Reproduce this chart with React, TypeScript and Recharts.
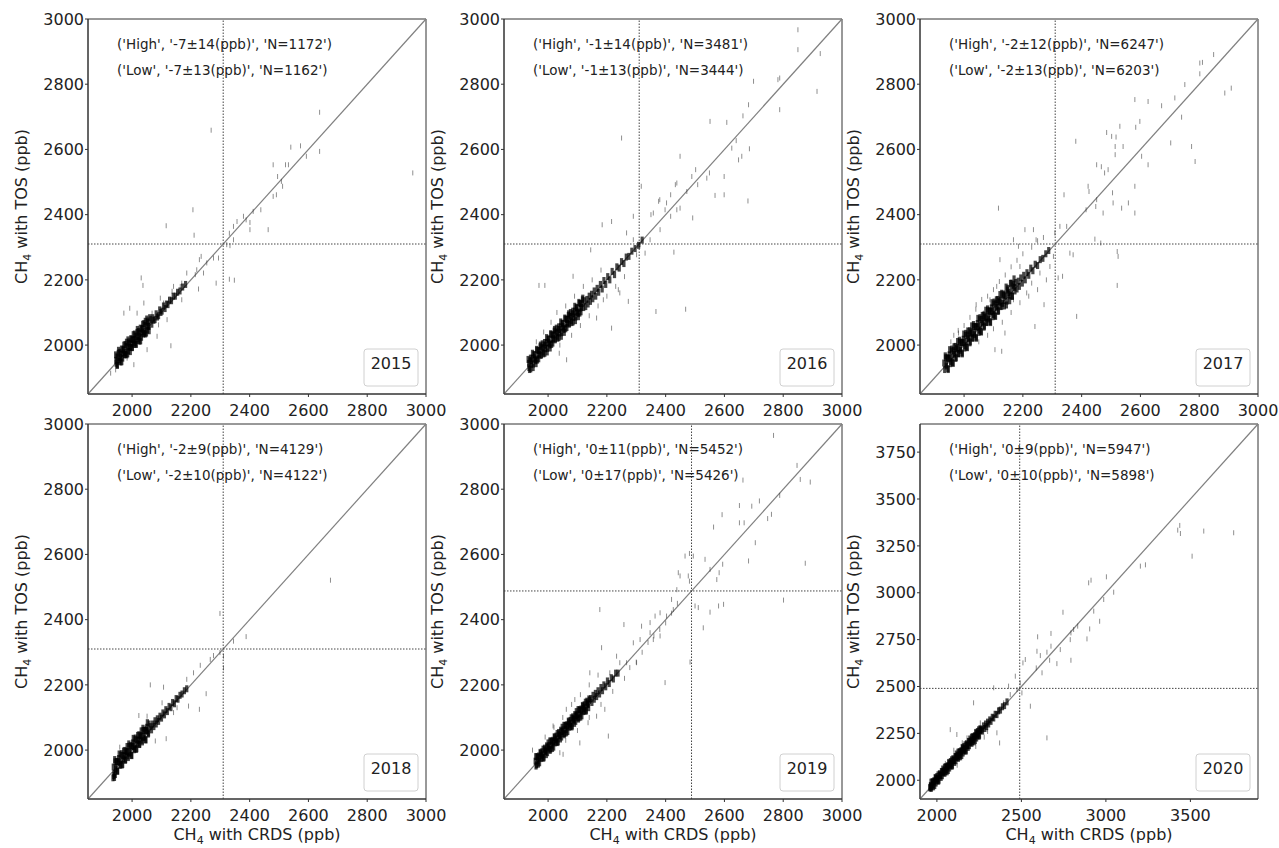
import React from 'react';
import { ScatterChart, Scatter, XAxis, YAxis, ReferenceLine, ReferenceArea } from 'recharts';

type P = [number, number];

const years = ['2015', '2016', '2017', '2018', '2019', '2020'];
const highStats = [
  "('High', '-7±14(ppb)', 'N=1172')",
  "('High', '-1±14(ppb)', 'N=3481')",
  "('High', '-2±12(ppb)', 'N=6247')",
  "('High', '-2±9(ppb)', 'N=4129')",
  "('High', '0±11(ppb)', 'N=5452')",
  "('High', '0±9(ppb)', 'N=5947')",
];
const lowStats = [
  "('Low', '-7±13(ppb)', 'N=1162')",
  "('Low', '-1±13(ppb)', 'N=3444')",
  "('Low', '-2±13(ppb)', 'N=6203')",
  "('Low', '-2±10(ppb)', 'N=4122')",
  "('Low', '0±17(ppb)', 'N=5426')",
  "('Low', '0±10(ppb)', 'N=5898')",
];
const thresholds = [2310, 2310, 2310, 2310, 2488, 2490];
const domainLow = [1850, 1850, 1850, 1850, 1850, 1900];
const domainHigh = [3000, 3000, 3000, 3000, 3000, 3900];
const ticksStd = [2000, 2200, 2400, 2600, 2800, 3000];
const ticks2020X = [2000, 2500, 3000, 3500];
const ticks2020Y = [2000, 2250, 2500, 2750, 3000, 3250, 3500, 3750];

// ---- 2015 ----
const core2015: P[] = [
  [1944,1970],[1946,1944],[1948,1964],[1950,1938],[1952,1962],[1954,1984],[1956,1950],[1958,1978],[1960,1962],[1962,1948],[1964,1988],[1966,1972],[1968,1960],[1970,1984],[1972,2000],[1974,1970],[1976,2002],[1978,1976],[1980,1996],[1982,1970],[1984,1994],[1986,2016],[1988,1982],[1990,2010],[1992,1994],[1994,1980],[1996,2020],[1998,2004],[2000,1992],[2002,2016],[2004,2032],[2006,2002],[2008,2034],[2010,2008],[2012,2028],[2014,2002],[2016,2026],[2018,2048],[2020,2014],[2022,2042],[2024,2026],[2026,2012],[2028,2052],[2030,2036],[2032,2024],[2034,2048],[2036,2064],[2038,2034],[2040,2066],[2042,2040],[2044,2060],[2046,2034],[2048,2058],[2050,2080],[2052,2046],[2054,2074],[2056,2058],[2058,2044],[2060,2084],
  [1945,1953],[1949,1939],[1953,1975],[1957,1955],[1961,1973],[1965,1949],[1969,1987],[1973,1977],[1977,1971],[1981,2009],[1985,1973],[1989,2005],[1993,1993],[1997,2017],[2001,1993],[2005,2015],[2009,2017],[2013,2003],[2017,2039],[2021,2019],[2025,2037],[2029,2013],[2033,2051],[2037,2041],[2041,2035],[2045,2073],[2049,2037],[2053,2069],[2057,2057],
  [2064,2078],[2067,2064],[2070,2084],[2074,2076],[2078,2078],[2082,2096],[2086,2086],[2090,2090],[2094,2108],[2098,2100],[2102,2104],[2107,2120],[2112,2112],[2117,2126],[2122,2124],[2128,2138],[2134,2136],[2140,2150],[2147,2150],[2155,2162],[2163,2166],[2172,2178],[2182,2186],
];
const out2015: P[] = [
  [2269,2659],[2638,2714],[2638,2594],[2593,2579],[2540,2607],[2573,2611],[2480,2553],[2522,2553],[2532,2553],[2495,2517],[2508,2502],[2512,2487],[2480,2456],[2491,2461],[2955,2528],[2207,2415],[2116,2366],[2211,2337],[2438,2415],[2412,2410],[2388,2384],[2401,2376],[2379,2395],[2345,2364],[2357,2379],[2463,2354],[2401,2354],[2331,2343],[2322,2308],[2333,2305],[2345,2323],[2331,2202],[2348,2199],[2286,2190],[2294,2267],[2277,2267],[2254,2252],[2235,2272],[2229,2262],[2220,2231],[2243,2221],[2226,2172],[2215,2216],[2186,2221],[2169,2190],[2164,2180],[2153,2160],[2136,2165],[2141,2180],[2169,2139],[2124,2139],[2107,2129],[2096,2144],[2068,2098],[2031,2206],[2037,2183],[2040,2129],[1992,2113],[1972,2098],[2017,2098],[2132,1998],[2090,2062],[2119,2078],[2085,2027],[2051,1986],[2006,1940],[1983,1960],[1927,1914],[1944,1924],
];

// ---- 2016 ----
const core2016: P[] = [
  [1932,1956],[1935,1931],[1938,1952],[1941,1927],[1944,1952],[1947,1975],[1950,1942],[1953,1971],[1956,1956],[1959,1943],[1962,1984],[1965,1969],[1968,1958],[1971,1983],[1974,2000],[1977,1971],[1980,2004],[1983,1979],[1986,2000],[1989,1975],[1992,2000],[1995,2023],[1998,1990],[2001,2019],[2004,2004],[2007,1991],[2010,2032],[2013,2017],[2016,2006],[2019,2031],[2022,2048],[2025,2019],[2028,2052],[2031,2027],[2034,2048],[2037,2023],[2040,2048],[2043,2071],[2046,2038],[2049,2067],[2052,2052],[2055,2039],[2058,2080],[2061,2065],[2064,2054],[2067,2079],[2070,2096],[2073,2067],[2076,2100],[2079,2075],[2082,2096],[2085,2071],[2088,2096],[2091,2119],[2094,2086],[2097,2115],[2100,2100],[2103,2087],[2106,2128],[2109,2113],[2112,2102],[2115,2127],[2118,2144],[2121,2115],
  [1934,1944],[1937,1925],[1940,1960],[1943,1941],[1946,1960],[1949,1931],[1952,1970],[1955,1961],[1958,1952],[1961,1987],[1964,1954],[1967,1983],[1970,1972],[1973,1995],[1976,1968],[1979,1991],[1982,1992],[1985,1973],[1988,2008],[1991,1989],[1994,2008],[1997,1979],[2000,2018],[2003,2009],[2006,2000],[2009,2035],[2012,2002],[2015,2031],[2018,2020],[2021,2043],[2024,2016],[2027,2039],[2030,2040],[2033,2021],[2036,2056],[2039,2037],[2042,2056],[2045,2027],[2048,2066],[2051,2057],[2054,2048],[2057,2083],[2060,2050],[2063,2079],[2066,2068],[2069,2091],[2072,2064],[2075,2087],[2078,2088],[2081,2069],[2084,2104],[2087,2085],[2090,2104],[2093,2075],[2096,2114],[2099,2105],[2102,2096],[2105,2131],[2108,2098],[2111,2127],[2114,2116],[2117,2139],
  [2124,2136],[2128,2118],[2132,2140],[2136,2126],[2140,2150],[2144,2134],[2148,2156],[2152,2142],[2157,2166],[2162,2150],[2167,2174],[2172,2162],[2178,2186],[2184,2172],[2190,2198],[2196,2186],[2203,2210],[2210,2200],[2218,2226],[2226,2216],[2234,2240],[2242,2236],[2250,2256],[2258,2250],[2266,2270],[2275,2272],[2285,2288],[2296,2296],[2308,2306],[2320,2322],
];
const out2016: P[] = [
  [2850,2967],[2850,2906],[2926,2894],[2782,2814],[2788,2819],[2699,2809],[2915,2778],[2788,2722],[2682,2737],[2663,2703],[2608,2683],[2551,2686],[2250,2635],[2640,2627],[2685,2602],[2659,2579],[2648,2568],[2625,2604],[2599,2517],[2568,2459],[2599,2461],[2680,2442],[2549,2528],[2540,2512],[2509,2492],[2502,2538],[2489,2517],[2472,2471],[2449,2579],[2438,2497],[2433,2492],[2417,2461],[2403,2436],[2380,2446],[2376,2441],[2398,2415],[2417,2395],[2438,2415],[2449,2420],[2492,2390],[2350,2400],[2381,2354],[2290,2395],[2216,2379],[2184,2369],[2358,2405],[2317,2487],[2347,2323],[2313,2308],[2290,2323],[2267,2344],[2428,2285],[2330,2282],[2301,2277],[2145,2292],[2085,2211],[1989,2183],[1969,2183],[2273,2134],[2239,2170],[2244,2160],[2367,2103],[2468,2110],[2216,2052],[2188,2139],[2165,2083],[2063,1955],[2038,1975],
  [1960,2010],[1985,2040],[2010,2070],[2030,2100],[2060,2120],[2090,2150],[2120,2180],[2150,2200],[2180,2230],[2040,2000],[2080,2030],[2110,2060],[2140,2090],[2170,2120],[2200,2150],[2230,2180],[2260,2210],
];

// ---- 2017 ----
const core2017: P[] = [
  [1936,1967],[1939,1936],[1942,1961],[1945,1928],[1948,1959],[1951,1986],[1954,1943],[1957,1982],[1960,1963],[1963,1944],[1966,1995],[1969,1976],[1972,1959],[1975,1990],[1978,2011],[1981,1974],[1984,2015],[1987,1984],[1990,2009],[1993,1976],[1996,2007],[1999,2034],[2002,1991],[2005,2030],[2008,2011],[2011,1992],[2014,2043],[2017,2024],[2020,2007],[2023,2038],[2026,2059],[2029,2022],[2032,2063],[2035,2032],[2038,2057],[2041,2024],[2044,2055],[2047,2082],[2050,2039],[2053,2078],[2056,2059],[2059,2040],[2062,2091],[2065,2072],[2068,2055],[2071,2086],[2074,2107],[2077,2070],[2080,2111],[2083,2080],[2086,2105],[2089,2072],[2092,2103],[2095,2130],[2098,2087],[2101,2126],[2104,2107],[2107,2088],[2110,2139],[2113,2120],[2116,2103],[2119,2134],[2122,2155],[2125,2118],[2128,2159],[2131,2128],[2134,2153],[2137,2120],[2140,2151],[2143,2178],[2146,2135],[2149,2174],[2152,2155],[2155,2136],[2158,2189],[2161,2168],[2164,2151],[2167,2182],[2170,2203],[2173,2166],
  [1931,1945],[1934,1925],[1937,1961],[1940,1941],[1943,1960],[1946,1925],[1949,1970],[1952,1961],[1955,1950],[1958,1988],[1961,1946],[1964,1983],[1967,1972],[1970,1996],[1973,1962],[1976,1988],[1979,1993],[1982,1973],[1985,2009],[1988,1989],[1991,2008],[1994,1973],[1997,2018],[2000,2009],[2003,1998],[2006,2036],[2009,1994],[2012,2031],[2015,2020],[2018,2044],[2021,2010],[2024,2036],[2027,2041],[2030,2021],[2033,2057],[2036,2037],[2039,2056],[2042,2021],[2045,2066],[2048,2057],[2051,2046],[2054,2084],[2057,2042],[2060,2079],[2063,2068],[2066,2092],[2069,2058],[2072,2084],[2075,2089],[2078,2069],[2081,2105],[2084,2085],[2087,2104],[2090,2069],[2093,2114],[2096,2105],[2099,2094],[2102,2132],[2105,2090],[2108,2127],[2111,2116],[2114,2140],[2117,2106],[2120,2132],[2124,2138],[2128,2119],[2132,2156],[2136,2137],[2140,2157],[2144,2123],[2148,2169],[2152,2161],[2156,2151],[2160,2190],[2164,2149],[2168,2187],[2172,2177],
  [2176,2192],[2180,2172],[2184,2196],[2188,2180],[2193,2206],[2198,2190],[2203,2214],[2208,2200],[2214,2222],[2220,2214],[2227,2236],[2234,2228],[2242,2248],[2250,2244],[2259,2262],[2268,2266],[2278,2280],[2288,2290],
];
const out2017: P[] = [
  [2849,2891],[2802,2865],[2811,2867],[2802,2832],[2887,2773],[2909,2788],[2751,2799],[2717,2758],[2740,2699],[2672,2734],[2626,2747],[2581,2753],[2598,2686],[2584,2668],[2530,2671],[2485,2652],[2502,2640],[2517,2638],[2541,2609],[2514,2609],[2514,2584],[2703,2620],[2774,2609],[2786,2563],[2626,2553],[2604,2579],[2380,2625],[2451,2553],[2467,2547],[2490,2538],[2478,2528],[2422,2487],[2425,2471],[2451,2446],[2448,2425],[2473,2405],[2505,2467],[2507,2436],[2536,2420],[2559,2436],[2581,2405],[2581,2487],[2415,2415],[2340,2461],[2117,2420],[2445,2325],[2465,2313],[2371,2277],[2521,2287],[2524,2272],[2521,2183],[2335,2211],[2320,2206],[2383,2088],[2272,2124],[2241,2057],[2128,1981],[2105,1986],[2041,2124],[2139,2037],[2122,2262],[2168,2323],[2207,2354],[2236,2354],[2185,2303],[2245,2323],[2309,2344],[2326,2364],[2349,2364],[2360,2282],[2304,2272],[2292,2241],[2258,2221],[2230,2190],[2213,2160],[2168,2139],[2190,2241],[2111,2180],[2088,2139],[2066,2098],[2054,2037],[2009,2047],[1981,2037],
  [1955,2010],[1965,2030],[1980,2045],[2000,2060],[2020,2085],[2040,2110],[2060,2140],[2080,2150],[2100,2170],[2120,2195],[2140,2215],[2160,2240],[2180,2260],[2200,2280],[2230,2300],[2250,2320],[2270,2330],[2050,2010],[2080,2030],[2100,2050],[2130,2070],[2160,2100],[2190,2130],[2220,2150],[2250,2170],[2280,2200],
];

// ---- 2018 ----
const core2018: P[] = [
  [1941,1971],[1944,1942],[1947,1965],[1950,1936],[1953,1965],[1956,1988],[1959,1953],[1962,1984],[1965,1969],[1968,1956],[1971,1997],[1974,1982],[1977,1969],[1980,1996],[1983,2011],[1986,1982],[1989,2019],[1992,1990],[1995,2013],[1998,1984],[2001,2013],[2004,2036],[2007,2001],[2010,2032],[2013,2017],[2016,2004],[2019,2045],[2022,2030],[2025,2017],[2028,2044],[2031,2059],[2034,2030],[2037,2067],[2040,2038],[2043,2061],[2046,2032],[2049,2061],[2052,2084],[2055,2049],[2058,2080],
  [1936,1948],[1939,1929],[1942,1964],[1945,1945],[1948,1964],[1951,1935],[1954,1974],[1957,1963],[1960,1956],[1963,1989],[1966,1954],[1969,1983],[1972,1974],[1975,1999],[1978,1970],[1981,1991],[1984,1996],[1987,1977],[1990,2012],[1993,1993],[1996,2012],[1999,1983],[2002,2022],[2005,2011],[2008,2004],[2011,2037],[2014,2002],[2017,2031],[2020,2022],[2023,2047],[2026,2018],[2029,2039],[2032,2044],[2035,2025],[2038,2060],[2041,2041],[2044,2060],[2047,2031],[2050,2070],[2053,2059],[2056,2052],
  [1935,1915],[1938,1922],[1940,1916],[1943,1925],
  [2062,2072],[2066,2062],[2070,2080],[2074,2072],[2078,2090],[2082,2080],[2086,2096],[2090,2088],[2095,2104],[2100,2098],[2105,2114],[2110,2108],[2115,2124],[2120,2118],[2126,2134],[2132,2130],[2138,2146],[2144,2142],[2150,2158],[2156,2156],[2163,2168],[2170,2172],[2178,2182],[2186,2188],
];
const out2018: P[] = [
  [2675,2521],[2299,2419],[2388,2348],[2345,2334],[2311,2288],[2299,2299],[2277,2290],[2266,2278],[2232,2260],[2209,2237],[2186,2217],[2311,2252],[2252,2173],[2229,2125],[2192,2135],[2107,2193],[2062,2200],[2023,2106],[2116,2035],[2079,2028],[2045,2068],[2141,2115],[2153,2130],[2102,2145],[2051,2104],[1958,2009],
];

// ---- 2019 ----
const core2019: P[] = [
  [1958,1980],[1961,1955],[1964,1978],[1967,1957],[1970,1978],[1973,1993],[1976,1974],[1979,1995],[1982,1986],[1985,1975],[1988,2006],[1991,1997],[1994,1986],[1997,2009],[2000,2022],[2003,2003],[2006,2028],[2009,2003],[2012,2026],[2015,2005],[2018,2026],[2021,2041],[2024,2022],[2027,2043],[2030,2034],[2033,2023],[2036,2054],[2039,2045],[2042,2034],[2045,2057],[2048,2070],[2051,2051],[2054,2076],[2057,2051],[2060,2074],[2063,2053],[2066,2074],[2069,2089],[2072,2070],[2075,2091],[2078,2082],[2081,2071],[2084,2102],[2087,2093],[2090,2082],[2093,2105],[2096,2118],[2099,2099],[2102,2124],[2105,2099],[2108,2122],[2111,2101],[2114,2122],[2117,2137],[2120,2118],[2123,2139],[2126,2130],[2129,2119],[2132,2150],[2135,2141],[2138,2130],[2141,2153],
  [1956,1966],[1959,1951],[1962,1980],[1965,1967],[1968,1982],[1971,1961],[1974,1990],[1977,1983],[1980,1976],[1983,2003],[1986,1978],[1989,2001],[1992,1996],[1995,2013],[1998,1992],[2001,2009],[2004,2014],[2007,1999],[2010,2028],[2013,2015],[2016,2030],[2019,2009],[2022,2038],[2025,2031],[2028,2024],[2031,2051],[2034,2026],[2037,2049],[2040,2044],[2043,2061],[2046,2040],[2049,2057],[2052,2062],[2055,2047],[2058,2076],[2061,2063],[2064,2078],[2067,2057],[2070,2086],[2073,2079],[2076,2072],[2079,2099],[2082,2074],[2085,2097],[2088,2092],[2091,2109],[2094,2088],[2097,2105],[2100,2110],[2103,2095],[2106,2124],[2109,2111],[2112,2126],[2115,2105],[2118,2134],[2121,2127],[2124,2120],[2127,2147],[2130,2122],[2133,2145],[2136,2140],[2139,2157],
  [2145,2158],[2149,2146],[2153,2168],[2157,2156],[2161,2174],[2165,2164],[2170,2182],[2175,2172],[2180,2192],[2185,2182],[2190,2200],[2196,2194],[2202,2212],[2208,2204],[2215,2222],[2222,2218],[2230,2236],[2238,2236],
];
const out2019: P[] = [
  [2767,2965],[2847,2873],[2858,2830],[2892,2822],[2663,2828],[2788,2781],[2719,2764],[2693,2748],[2651,2750],[2760,2723],[2592,2722],[2747,2710],[2705,2636],[2563,2684],[2651,2697],[2667,2697],[2682,2580],[2875,2573],[2801,2460],[2597,2447],[2580,2442],[2594,2570],[2582,2544],[2574,2523],[2551,2554],[2534,2585],[2494,2595],[2481,2603],[2466,2595],[2443,2544],[2449,2534],[2477,2534],[2481,2518],[2500,2442],[2511,2437],[2528,2375],[2551,2423],[2483,2270],[2176,2431],[2182,2314],[2258,2385],[2398,2207],[2318,2380],[2347,2391],[2364,2411],[2381,2421],[2403,2411],[2426,2431],[2420,2462],[2438,2492],[2381,2350],[2358,2339],[2347,2360],[2313,2339],[2290,2329],[2267,2268],[2278,2253],[2244,2268],[2233,2288],[2210,2237],[2301,2268],[2205,2043],[2193,2125],[2165,2104],[2136,2084],[2108,2022],[2040,1992],[2008,2002],[2091,2155],[2142,2237],[2062,2125],[2017,2074],[1947,2000],[2051,1987],
  [1990,2040],[2020,2070],[2050,2100],[2080,2140],[2110,2170],[2140,2200],[2170,2230],[2060,2030],[2100,2060],[2140,2100],[2180,2140],[2220,2180],[2260,2220],[2300,2270],[2320,2300],[2340,2330],[2360,2350],[2380,2370],[2400,2390],[2420,2420],[2440,2450],
];

// ---- 2020 ----
const core2020: P[] = [
  [1965,1990],[1970,1965],[1975,1990],[1980,1965],[1985,1995],[1990,2015],[1995,1985],[2000,2020],[2005,2010],[2010,1995],[2015,2035],[2020,2025],[2025,2015],[2030,2045],[2035,2060],[2040,2040],[2045,2070],[2050,2045],[2055,2070],[2060,2045],[2065,2075],[2070,2095],[2075,2065],[2080,2100],[2085,2090],[2090,2075],[2095,2115],[2100,2105],[2105,2095],[2110,2125],[2115,2140],[2120,2120],[2125,2150],[2130,2125],[2135,2150],[2140,2125],[2145,2155],[2150,2175],[2155,2145],[2160,2180],[2165,2170],[2170,2155],[2175,2195],[2180,2185],[2185,2175],[2190,2205],[2195,2220],[2200,2200],[2205,2230],[2210,2205],[2215,2230],[2220,2205],[2225,2235],[2230,2255],[2235,2225],[2240,2260],[2245,2250],[2250,2235],[2255,2275],[2260,2265],
  [1962,1972],[1967,1957],[1972,1992],[1977,1977],[1982,1997],[1987,1972],[1992,2010],[1997,2002],[2002,1997],[2007,2029],[2012,2000],[2017,2029],[2022,2024],[2027,2047],[2032,2024],[2037,2045],[2042,2052],[2047,2037],[2052,2072],[2057,2057],[2062,2077],[2067,2052],[2072,2090],[2077,2082],[2082,2077],[2087,2109],[2092,2080],[2097,2109],[2102,2104],[2107,2127],[2112,2104],[2117,2125],[2122,2132],[2127,2117],[2132,2152],[2137,2137],[2142,2157],[2147,2132],[2152,2170],[2157,2162],[2162,2157],[2167,2189],[2172,2160],[2177,2189],[2182,2184],[2187,2207],[2192,2184],[2197,2205],[2202,2212],[2207,2197],[2212,2232],[2217,2217],[2222,2237],[2227,2212],[2232,2250],[2237,2242],[2242,2237],[2247,2269],[2252,2240],[2257,2269],
  [1960,1958],[1963,1966],[1958,1962],
  [2265,2272],[2270,2262],[2276,2290],[2282,2276],[2288,2300],[2294,2286],[2300,2310],[2306,2300],[2313,2322],[2320,2314],[2328,2336],[2336,2332],[2345,2352],[2355,2350],[2365,2370],[2376,2374],[2388,2392],[2400,2398],[2415,2418],
];
const out2020: P[] = [
  [3437,3359],[3425,3334],[3441,3316],[3579,3329],[3756,3320],[3510,3195],[3204,3142],[3234,3149],[3003,3085],[2898,3053],[2912,3067],[3046,3003],[2987,2964],[2746,2896],[2928,2902],[2963,2848],[2904,2807],[2888,2754],[2833,2822],[2793,2786],[2809,2804],[2793,2640],[2789,2750],[2730,2697],[2675,2783],[2596,2765],[2675,2715],[2651,2683],[2612,2665],[2592,2688],[2588,2599],[2622,2573],[2667,2640],[2710,2622],[2523,2644],[2509,2626],[2651,2226],[2553,2395],[2464,2555],[2493,2519],[2424,2502],[2474,2484],[2503,2466],[2434,2457],[2395,2413],[2365,2377],[2336,2493],[2371,2199],[2217,2413],[2178,2226],[2118,2244],[2079,2270],[2257,2306],[2296,2270],[2355,2253],
  [2100,2160],[2150,2200],[2180,2150],[2050,2090],[2230,2180],[2280,2230],[2300,2260],[2120,2080],
];

const cores: P[][] = [core2015, core2016, core2017, core2018, core2019, core2020];
const outs: P[][] = [out2015, out2016, out2017, out2018, out2019, out2020];

const plotLefts = [88, 504, 920];
const plotTops = [19, 424];
const PW = 338;
const PH = 375;
const FONT = 'DejaVu Sans, Arial, sans-serif';
const TXT = '#222';

const toPts = (arr: P[]) => arr.map(([x, y]) => ({ x, y }));

const coreShape = (p: any) => (
  <rect x={p.cx - 1.6} y={p.cy - 3.5} width={3.2} height={7} fill="#000" fillOpacity={0.72} />
);
const outShape = (p: any) => (
  <rect x={p.cx - 0.5} y={p.cy - 2.5} width={1} height={5} fill="#333" fillOpacity={0.55} />
);

function Panel({ i }: { i: number }) {
  const col = i % 3;
  const row = Math.floor(i / 3);
  const lo = domainLow[i];
  const hi = domainHigh[i];
  const xt = i === 5 ? ticks2020X : ticksStd;
  const yt = i === 5 ? ticks2020Y : ticksStd;
  const th = thresholds[i];
  const chartLeft = plotLefts[col] - 88;
  const chartTop = row === 0 ? 0 : 405;
  const height = row === 0 ? 424 : 443;
  const tickStyle = { fontSize: 16, fill: TXT, fontFamily: FONT };
  return (
    <div style={{ position: 'absolute', left: chartLeft, top: chartTop }}>
      <ScatterChart
        width={460}
        height={height}
        margin={{ top: 19, right: 34, bottom: row === 0 ? 0 : 5, left: 28 }}
      >
        <XAxis
          type="number"
          dataKey="x"
          domain={[lo, hi]}
          ticks={xt}
          interval={0}
          allowDataOverflow
          height={row === 0 ? 30 : 44}
          tickSize={3}
          tickMargin={8}
          tick={tickStyle}
          axisLine={{ stroke: '#333' }}
          tickLine={{ stroke: '#333' }}
        />
        <YAxis
          type="number"
          dataKey="y"
          domain={[lo, hi]}
          ticks={yt}
          interval={0}
          allowDataOverflow
          width={60}
          tickSize={3}
          tickMargin={1}
          tick={tickStyle}
          axisLine={{ stroke: '#333' }}
          tickLine={{ stroke: '#333' }}
        />
        <ReferenceArea x1={lo} x2={hi} y1={lo} y2={hi} fill="none" fillOpacity={0} stroke="#333" strokeWidth={1} ifOverflow="visible" />
        <ReferenceLine
          segment={[{ x: lo, y: lo }, { x: hi, y: hi }]}
          stroke="#808080"
          strokeWidth={1.2}
          ifOverflow="visible"
        />
        <ReferenceLine x={th} stroke="#444" strokeWidth={1} strokeDasharray="1.5 1.5" />
        <ReferenceLine y={th} stroke="#444" strokeWidth={1} strokeDasharray="1.5 1.5" />
        <Scatter data={toPts(outs[i])} shape={outShape} isAnimationActive={false} />
        <Scatter data={toPts(cores[i])} shape={coreShape} isAnimationActive={false} />
      </ScatterChart>
    </div>
  );
}

function Overlay() {
  const items: React.ReactNode[] = [];
  for (let i = 0; i < 6; i++) {
    const col = i % 3;
    const row = Math.floor(i / 3);
    const L = plotLefts[col];
    const T = plotTops[row];
    const R = L + PW;
    const B = T + PH;
    const cy = T + PH / 2;
    const ylx = L - 61;
    items.push(
      <g key={'p' + i}>
        <text x={L + 29} y={T + 29.5} fontSize={13.5} fill={TXT} fontFamily={FONT}>{highStats[i]}</text>
        <text x={L + 29} y={T + 56} fontSize={13.5} fill={TXT} fontFamily={FONT}>{lowStats[i]}</text>
        <rect x={R - 62} y={B - 45} width={54} height={37} rx={3} ry={3} fill="#fff" fillOpacity={0.8} stroke="#d0d0d0" strokeWidth={1} />
        <text x={R - 35} y={B - 25} fontSize={16} fill={TXT} fontFamily={FONT} textAnchor="middle">{years[i]}</text>
        <text x={ylx} y={cy} fontSize={16} fill={TXT} fontFamily={FONT} textAnchor="middle" transform={`rotate(-90, ${ylx}, ${cy})`}>
          <tspan>CH</tspan>
          <tspan fontSize={11} dy={3.5}>4</tspan>
          <tspan dy={-3.5}> with TOS (ppb)</tspan>
        </text>
        {row === 1 ? (
          <text x={L + PW / 2} y={840} fontSize={16} fill={TXT} fontFamily={FONT} textAnchor="middle">
            <tspan>CH</tspan>
            <tspan fontSize={11} dy={3.5}>4</tspan>
            <tspan dy={-3.5}> with CRDS (ppb)</tspan>
          </text>
        ) : null}
      </g>
    );
  }
  return (
    <svg width={1279} height={848} style={{ position: 'absolute', left: 0, top: 0, pointerEvents: 'none' }}>
      {items}
    </svg>
  );
}

export default function App() {
  return (
    <div style={{ position: 'absolute', left: 0, top: 0, width: 1279, height: 848, background: '#fff', overflow: 'hidden' }}>
      {[0, 1, 2, 3, 4, 5].map((i) => (
        <Panel key={i} i={i} />
      ))}
      <Overlay />
    </div>
  );
}
